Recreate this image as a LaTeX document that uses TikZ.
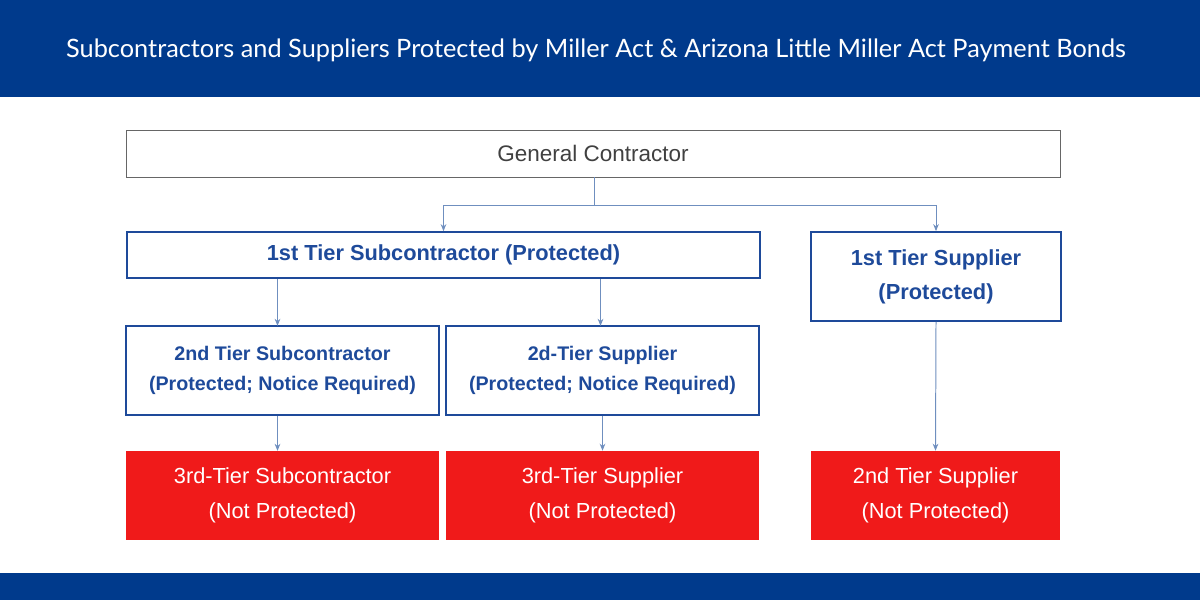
\documentclass[tikz,border=0pt]{standalone}
\usepackage{fontspec}
\setmainfont{Liberation Sans}
\newfontfamily\titlefont{Lato}
\usetikzlibrary{arrows.meta}
\definecolor{bannerblue}{HTML}{003A8C}
\definecolor{tierblue}{HTML}{1E4A9A}
\definecolor{boxred}{HTML}{F01A1A}
\definecolor{linkblue}{HTML}{6F8FBF}
\tikzset{
  gcbox/.style={draw=black!60, minimum width={934*0.025cm}, minimum height={47*0.025cm}, inner sep=0pt, font=\fontsize{16}{18}\selectfont, text=black!75},
  tierbox/.style={draw=tierblue, line width=1.2pt, inner sep=0pt, align=center, text=tierblue, font=\bfseries\fontsize{15.5}{24}\selectfont},
  redbox/.style={fill=boxred, inner sep=0pt, align=center, text=white, minimum height={89*0.025cm}, font=\fontsize{15.5}{25}\selectfont},
  link/.style={draw=linkblue, line width=0.7pt, -{Stealth[length=5pt,width=4pt]}}
}
\begin{document}
\begin{tikzpicture}[x=0.025cm,y=-0.025cm]
  \useasboundingbox (0,0) rectangle (1200,600);
  \fill[bannerblue] (0,0) rectangle (1200,97);
  \fill[bannerblue] (0,573) rectangle (1200,600);
  \node[text=white, font=\titlefont\fontsize{18}{20}\selectfont] (title) at (596,50) {Subcontractors and Suppliers Protected by Miller Act \& Arizona Little Miller Act Payment Bonds};
  % boxes
  \node[gcbox] (gc) at (593,153.5) {General Contractor};
  \node[tierbox, minimum width={633*0.025cm}, minimum height={46*0.025cm}] (sub1) at (443.5,255) {1st Tier Subcontractor (Protected)};
  \node[tierbox, minimum width={250*0.025cm}, minimum height={89*0.025cm}] (sup1) at (936,276.5) {1st Tier Supplier\\(Protected)};
  \node[tierbox, minimum width={313*0.025cm}, minimum height={89*0.025cm}, font=\bfseries\fontsize{14}{21}\selectfont] (sub2) at (282.5,370.5) {2nd Tier Subcontractor\\(Protected; Notice Required)};
  \node[tierbox, minimum width={313*0.025cm}, minimum height={89*0.025cm}, font=\bfseries\fontsize{14}{21}\selectfont] (sup2) at (602.5,370.5) {2d-Tier Supplier\\(Protected; Notice Required)};
  \node[redbox, minimum width={313*0.025cm}] (sub3) at (282.5,495.5) {3rd-Tier Subcontractor\\(Not Protected)};
  \node[redbox, minimum width={313*0.025cm}] (sup3) at (602.5,495.5) {3rd-Tier Supplier\\(Not Protected)};
  \node[redbox, minimum width={249*0.025cm}] (sup2b) at (935.5,495.5) {2nd Tier Supplier\\(Not Protected)};
  % connectors
  \coordinate (split) at (594,205);
  \draw[draw=linkblue, line width=0.7pt] (gc.south -| split) -- (split);
  \draw[link] (split) -| (sub1.north);
  \draw[link] (split) -| (sup1.north);
  \draw[link] (sub1.south -| sub2.north) ++(-5,0) -- ++(0,47);
  \draw[link] (sub1.south -| sup2.north) ++(-2,0) -- ++(0,47);
  \draw[link] (sub2.south) ++(-5,0) -- ++(0,35);
  \draw[link] (sup2.south) -- (sup3.north);
  \draw[link] (sup1.south) -- (sup2b.north);
\end{tikzpicture}
\end{document}
